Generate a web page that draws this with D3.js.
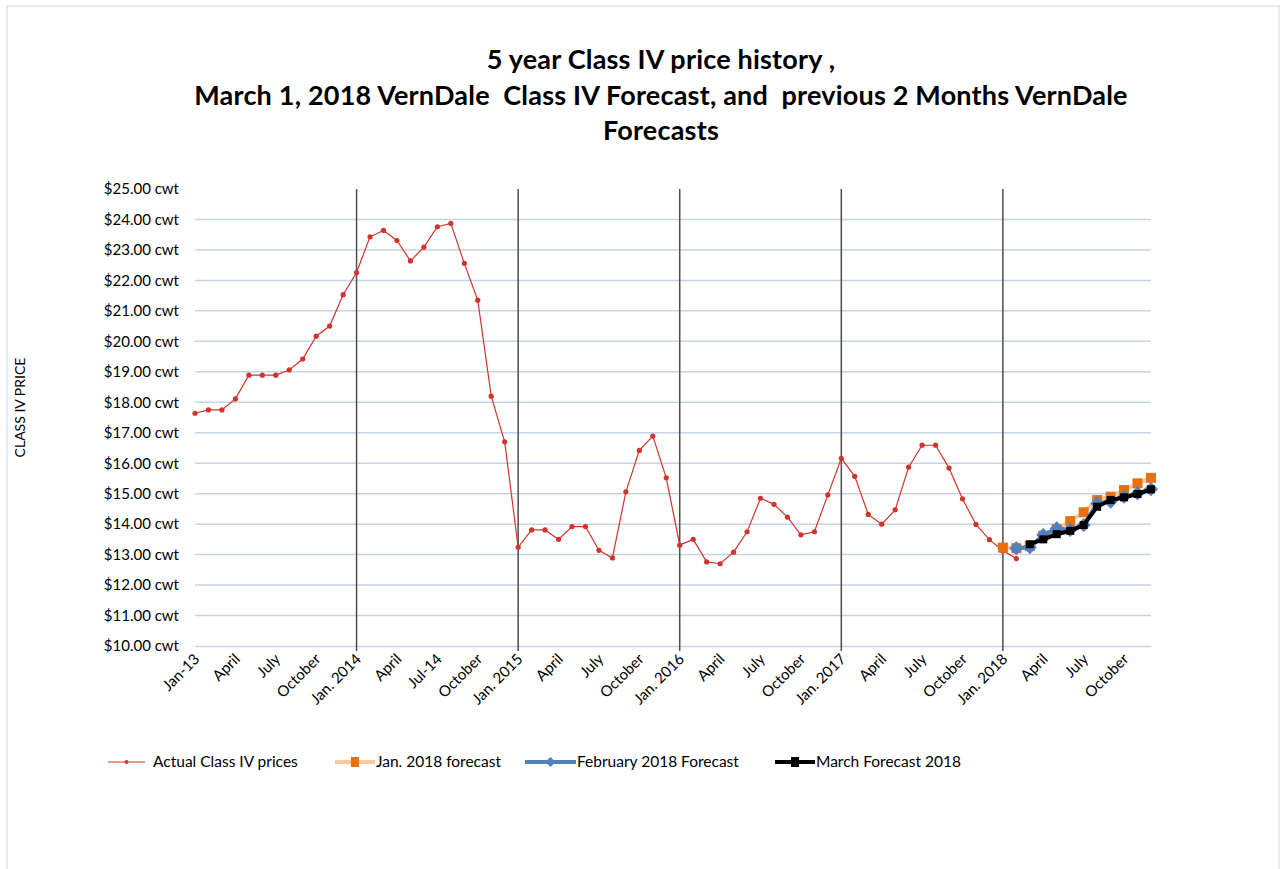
<!DOCTYPE html>
<html>
<head>
<meta charset="utf-8">
<script src="https://cdn.jsdelivr.net/npm/d3@7"></script>
<style>
  body { margin: 0; background: #fff; }
  text { font-family: Lato, "Open Sans", sans-serif; fill: #000; }
</style>
</head>
<body>
<svg id="chart"></svg>
<script>
const width = 1280;
const height = 869;

// months Jan 2013 .. Dec 2018
const monthNames = ["Jan","Feb","Mar","Apr","May","Jun","Jul","Aug","Sep","Oct","Nov","Dec"];
const months = [];
for (let yr = 2013; yr <= 2018; yr++) monthNames.forEach(m => months.push(m + " " + yr));

// tick labels shown every 3 months
const tickLabels = ["Jan-13","April","July","October","Jan. 2014","April","Jul-14","October",
    "Jan. 2015","April","July","October","Jan. 2016","April","July","October",
    "Jan. 2017","April","July","October","Jan. 2018","April","July","October"];

const yearStarts = ["Jan 2014","Jan 2015","Jan 2016","Jan 2017","Jan 2018"];

const actualPrices = [
    17.64, 17.75, 17.75, 18.11, 18.89, 18.89, 18.89, 19.06, 19.42, 20.17, 20.50, 21.53,
    22.26, 23.43, 23.64, 23.31, 22.64, 23.09, 23.76, 23.87, 22.56, 21.35, 18.20, 16.70,
    13.24, 13.81, 13.81, 13.50, 13.92, 13.92, 13.14, 12.89, 15.06, 16.42, 16.89, 15.52,
    13.31, 13.50, 12.76, 12.70, 13.08, 13.75, 14.85, 14.65, 14.23, 13.65, 13.75, 14.96,
    16.16, 15.57, 14.32, 14.00, 14.47, 15.87, 16.59, 16.59, 15.84, 14.83, 13.99, 13.49,
    13.13, 12.87
];

const janForecastMonths = months.slice(60);
const janForecast = [13.23, 13.21, 13.28, 13.62, 13.84, 14.10, 14.39, 14.79, 14.90, 15.12, 15.34, 15.52];

const febForecastMonths = months.slice(61);
const febForecast = [13.21, 13.24, 13.64, 13.86, 13.81, 13.97, 14.68, 14.74, 14.90, 15.01, 15.15];

const marForecastMonths = months.slice(62);
const marForecast = [13.34, 13.50, 13.67, 13.78, 13.97, 14.57, 14.79, 14.88, 14.99, 15.14];

const yTicks = d3.range(10, 25.001, 1);

const svg = d3.select("#chart").attr("width", width).attr("height", height);

// outer frame
svg.append("rect")
    .attr("x", 7).attr("y", 6)
    .attr("width", 1272).attr("height", 900)
    .attr("fill", "none")
    .attr("stroke", "#dbe5f1")
    .attr("stroke-width", 1.5);

const plot = {left: 195, right: 1151, top: 189, bottom: 646};

const x = d3.scalePoint().domain(months).range([plot.left, plot.right]);
const y = d3.scaleLinear().domain([10, 25]).range([plot.bottom, plot.top]);

// title
const titleLines = ["5 year Class IV price history ,",
    "March 1, 2018 VernDale  Class IV Forecast, and  previous 2 Months VernDale",
    "Forecasts"];
svg.append("g").selectAll("text")
    .data(titleLines)
    .join("text")
    .attr("x", 661)
    .attr("y", (d, i) => 69 + i * 35.5)
    .attr("text-anchor", "middle")
    .style("font-size", "27px")
    .style("font-weight", "bold")
    .style("letter-spacing", "0.2px")
    .style("white-space", "pre")
    .text(d => d);

// gridlines
svg.append("g")
    .selectAll("line")
    .data(yTicks.filter(v => v > 10 && v < 25))
    .join("line")
    .attr("x1", plot.left).attr("x2", plot.right)
    .attr("y1", d => y(d)).attr("y2", d => y(d))
    .attr("stroke", "#c5d4e8")
    .attr("stroke-width", 1.5);

// y axis labels
const yAxis = d3.axisLeft(y)
    .tickValues(yTicks)
    .tickSize(0)
    .tickPadding(16)
    .tickFormat(d => "$" + d3.format(".2f")(d) + " cwt");
const yg = svg.append("g").attr("transform", `translate(${plot.left},0)`).call(yAxis);
yg.select(".domain").remove();
yg.selectAll("text").style("font-size", "15px").style("font-family", "Lato, sans-serif").attr("fill", "#000");

// y axis title
svg.append("text")
    .attr("transform", `translate(25,${(plot.top + plot.bottom) / 2 - 10}) rotate(-90)`)
    .attr("text-anchor", "middle")
    .style("font-size", "14px")
    .text("CLASS IV PRICE");

// x axis
const tickMonths = months.filter((d, i) => i % 3 === 0);
const xAxis = d3.axisBottom(x)
    .tickValues(tickMonths)
    .tickSize(0)
    .tickPadding(0)
    .tickFormat((d, i) => tickLabels[i]);
const xg = svg.append("g").attr("transform", `translate(0,${plot.bottom})`).call(xAxis);
xg.select(".domain").attr("stroke", "#c5d4e8").attr("stroke-width", 1.5);
xg.selectAll("text")
    .style("font-size", "15px")
    .style("font-family", "Lato, sans-serif")
    .attr("fill", "#000")
    .attr("text-anchor", "end")
    .attr("dy", null)
    .attr("y", 0)
    .attr("transform", "translate(5,14) rotate(-45)");

// year dividers
svg.append("g")
    .selectAll("line")
    .data(yearStarts)
    .join("line")
    .attr("x1", d => x(d)).attr("x2", d => x(d))
    .attr("y1", plot.top).attr("y2", plot.bottom + 5)
    .attr("stroke", "#4d4d4d")
    .attr("stroke-width", 1.5);

// actual prices
const actual = actualPrices.map((v, i) => ({m: months[i], v}));
const line = d3.line().x(d => x(d.m)).y(d => y(d.v));

svg.append("path")
    .datum(actual)
    .attr("d", line)
    .attr("fill", "none")
    .attr("stroke", "#d0342c")
    .attr("stroke-width", 1.2);
svg.append("g").selectAll("circle")
    .data(actual)
    .join("circle")
    .attr("cx", d => x(d.m)).attr("cy", d => y(d.v))
    .attr("r", 2.6)
    .attr("fill", "#d0342c");

// Jan forecast
const janData = janForecast.map((v, i) => ({m: janForecastMonths[i], v}));
svg.append("path")
    .datum(janData)
    .attr("d", line)
    .attr("fill", "none")
    .attr("stroke", "#f9c9a0")
    .attr("stroke-width", 4);
svg.append("g").selectAll("rect")
    .data(janData)
    .join("rect")
    .attr("x", d => x(d.m) - 5).attr("y", d => y(d.v) - 5)
    .attr("width", 10).attr("height", 10)
    .attr("fill", "#e8700e");

// Feb forecast
const febData = febForecast.map((v, i) => ({m: febForecastMonths[i], v}));
svg.append("path")
    .datum(febData)
    .attr("d", line)
    .attr("fill", "none")
    .attr("stroke", "#4f81bd")
    .attr("stroke-width", 4);
const diamond = d3.symbol().type(d3.symbolSquare).size(100);
svg.append("g").selectAll("path")
    .data(febData)
    .join("path")
    .attr("d", diamond)
    .attr("transform", d => `translate(${x(d.m)},${y(d.v)}) rotate(45)`)
    .attr("fill", "#4f81bd");

// March forecast
const marData = marForecast.map((v, i) => ({m: marForecastMonths[i], v}));
svg.append("path")
    .datum(marData)
    .attr("d", line)
    .attr("fill", "none")
    .attr("stroke", "#000")
    .attr("stroke-width", 4);
svg.append("g").selectAll("rect")
    .data(marData)
    .join("rect")
    .attr("x", d => x(d.m) - 4).attr("y", d => y(d.v) - 4)
    .attr("width", 8).attr("height", 8)
    .attr("fill", "#000");

// legend
const legendItems = [
    {label: "Actual Class IV prices", x: 108, w: 37, tx: 153, color: "#d0342c", sw: 1.2, marker: "dot"},
    {label: "Jan. 2018 forecast", x: 335, w: 40, tx: 376, color: "#f9c9a0", sw: 4, marker: "square", mcolor: "#e8700e"},
    {label: "February 2018 Forecast", x: 525, w: 51, tx: 577, color: "#4f81bd", sw: 4, marker: "diamond", mcolor: "#4f81bd"},
    {label: "March Forecast 2018", x: 775, w: 40, tx: 816, color: "#000", sw: 4, marker: "square", mcolor: "#000"}
];
const ly = 762;
const lg = svg.append("g");
legendItems.forEach(it => {
    lg.append("line")
        .attr("x1", it.x).attr("x2", it.x + it.w)
        .attr("y1", ly).attr("y2", ly)
        .attr("stroke", it.color).attr("stroke-width", it.sw);
    const cx = it.x + it.w / 2;
    if (it.marker === "dot") {
        lg.append("circle").attr("cx", cx).attr("cy", ly).attr("r", 2).attr("fill", it.color);
    } else if (it.marker === "square") {
        lg.append("rect").attr("x", cx - 4).attr("y", ly - 5).attr("width", 8).attr("height", 10).attr("fill", it.mcolor);
    } else {
        lg.append("path").attr("d", d3.symbol().type(d3.symbolSquare).size(50))
            .attr("transform", `translate(${cx},${ly}) rotate(45)`).attr("fill", it.mcolor);
    }
    lg.append("text")
        .attr("x", it.tx).attr("y", ly + 5)
        .style("font-size", "15.5px")
        .text(it.label);
});
</script>
</body>
</html>
